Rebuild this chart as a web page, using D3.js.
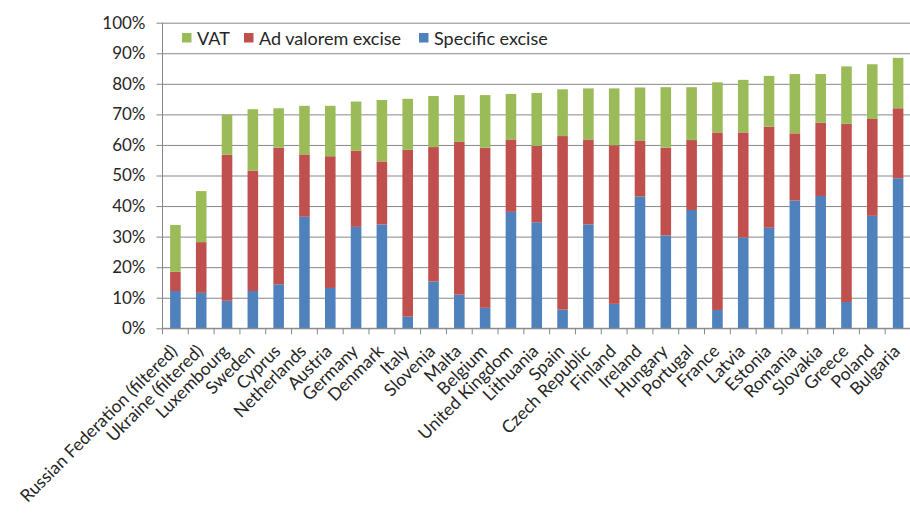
<!DOCTYPE html>
<html>
<head>
<meta charset="utf-8">
<script src="https://cdn.jsdelivr.net/npm/d3@7"></script>
<style>
  html, body { margin: 0; padding: 0; background: #fff; }
  svg { display: block; font-family: Lato, "Open Sans", sans-serif; }
</style>
</head>
<body>
<svg id="chart" width="910" height="515"></svg>
<script>
// Country categories, ordered by total tax share
const categories = [
  "Russian Federation (filtered)", "Ukraine (filtered)", "Luxembourg", "Sweden", "Cyprus",
  "Netherlands", "Austria", "Germany", "Denmark", "Italy", "Slovenia", "Malta", "Belgium",
  "United Kingdom", "Lithuania", "Spain", "Czech Republic", "Finland", "Ireland", "Hungary",
  "Portugal", "France", "Latvia", "Estonia", "Romania", "Slovakia", "Greece", "Poland", "Bulgaria"
];

// Share of retail price (%) by tax component
const specificExcise = [12.2, 11.6, 9.0, 12.2, 14.4, 36.5, 13.2, 33.2, 34.0, 3.8, 15.3, 11.0, 6.7,
  38.1, 34.7, 6.1, 34.0, 8.0, 43.1, 30.4, 38.7, 6.0, 29.7, 32.9, 41.8, 43.3, 8.6, 36.8, 49.1];
const adValoremExcise = [6.3, 16.6, 47.8, 39.4, 44.7, 20.4, 43.1, 24.9, 20.6, 54.6, 44.0, 50.0, 52.4,
  23.7, 25.0, 56.8, 27.8, 51.9, 18.2, 28.7, 22.9, 58.1, 34.4, 33.1, 22.0, 24.0, 58.3, 31.7, 22.9];
const vat = [15.3, 16.7, 13.1, 20.1, 12.9, 15.9, 16.5, 16.1, 20.1, 16.7, 16.7, 15.3, 17.2,
  14.9, 17.3, 15.3, 16.7, 18.6, 17.5, 19.8, 17.3, 16.4, 17.2, 16.6, 19.4, 15.9, 18.8, 17.9, 16.5];

const yTicks = [0, 10, 20, 30, 40, 50, 60, 70, 80, 90, 100];

const seriesNames = ["Specific excise", "Ad valorem excise", "VAT"];
const seriesColors = ["#4f81bd", "#c0504d", "#9bbb59"];
const legendOrder = ["VAT", "Ad valorem excise", "Specific excise"];

const rows = categories.map((c, i) => ({
  country: c,
  "Specific excise": specificExcise[i],
  "Ad valorem excise": adValoremExcise[i],
  "VAT": vat[i]
}));

const svg = d3.select("#chart");
const plotLeft = 162.5, plotRight = 911, plotTop = 22.7, plotBottom = 328.3;

const x = d3.scaleBand().domain(categories).range([plotLeft, plotRight]).padding(0);
const y = d3.scaleLinear().domain([0, 100]).range([plotBottom, plotTop]);
const color = d3.scaleOrdinal().domain(seriesNames).range(seriesColors);

const stacked = d3.stack().keys(seriesNames)(rows);

const axisColor = "#878787";
const textColor = "#262626";

// Horizontal gridlines with short outer ticks
const yAxis = d3.axisLeft(y).tickValues(yTicks).tickFormat(d => d + "%")
  .tickSize(-(plotRight - plotLeft)).tickSizeOuter(0).tickPadding(17);
const gy = svg.append("g").attr("transform", `translate(${plotLeft},0)`).call(yAxis);
gy.select(".domain").remove();
gy.selectAll(".tick line").attr("stroke", axisColor).attr("x1", -6);
gy.selectAll(".tick text").attr("fill", textColor).attr("font-size", 17)
  .attr("font-family", "Lato, sans-serif");

// Vertical axis line
svg.append("line").attr("x1", plotLeft).attr("x2", plotLeft).attr("y1", plotTop).attr("y2", plotBottom)
  .attr("stroke", axisColor);

// Stacked bars
const barW = x.bandwidth() * 0.41;
svg.append("g").selectAll("g").data(stacked).join("g")
  .attr("fill", d => color(d.key))
  .selectAll("rect").data(d => d).join("rect")
  .attr("x", d => x(d.data.country) + (x.bandwidth() - barW) / 2)
  .attr("width", barW)
  .attr("y", d => y(d[1]))
  .attr("height", d => y(d[0]) - y(d[1]));

// Category axis with ticks at band boundaries
const boundaries = categories.map(c => x(c)).concat([x(categories[categories.length - 1]) + x.step()]);
const gx = svg.append("g");
gx.append("line").attr("x1", plotLeft).attr("x2", plotRight).attr("y1", plotBottom).attr("y2", plotBottom)
  .attr("stroke", axisColor);
gx.selectAll("line.tk").data(boundaries).join("line").attr("class", "tk")
  .attr("x1", d => d).attr("x2", d => d).attr("y1", plotBottom).attr("y2", plotBottom + 6)
  .attr("stroke", axisColor);
gx.selectAll("text").data(categories).join("text")
  .attr("transform", d => `translate(${x(d) + x.bandwidth() / 2 + 3},${plotBottom + 24}) rotate(-45)`)
  .attr("text-anchor", "end")
  .attr("font-size", 17.5)
  .attr("fill", textColor)
  .text(d => d);

// Legend
const legendX = [182, 244, 419];
const lg = svg.append("g").selectAll("g").data(legendOrder).join("g")
  .attr("transform", (d, i) => `translate(${legendX[i]},33)`);
lg.append("rect").attr("width", 9.5).attr("height", 9.5).attr("fill", d => color(d));
lg.append("text").attr("x", 15).attr("y", 11.5)
  .attr("font-size", 18).attr("fill", textColor).text(d => d);
</script>
</body>
</html>
